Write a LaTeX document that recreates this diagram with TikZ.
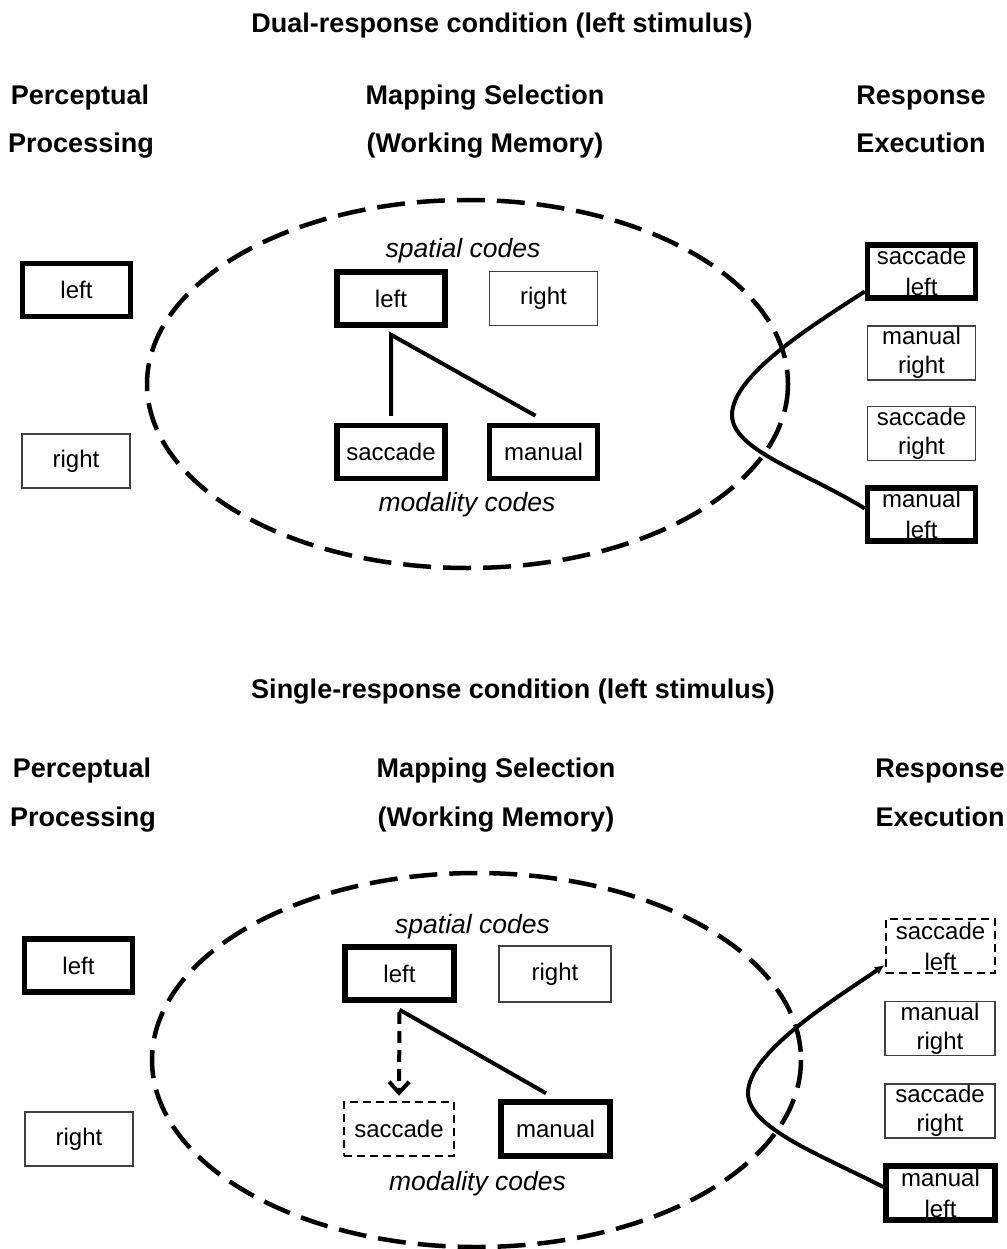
\documentclass[tikz,border=0pt]{standalone}
\usepackage{fontspec}
\setmainfont{Liberation Sans}
\usetikzlibrary{arrows.meta}
\begin{document}
\begin{tikzpicture}[x=1pt,y=-1pt,
  head/.style={font=\fontsize{27}{30}\selectfont\bfseries, anchor=base, inner sep=0pt},
  codes/.style={font=\fontsize{26.5}{30}\selectfont\itshape, anchor=base, inner sep=0pt},
  boxbase/.style={draw, inner sep=0pt, font=\fontsize{24}{29}\selectfont, align=center,
    minimum width=108pt, minimum height=54pt},
  thickbox/.style={boxbase, line width=5.5pt, minimum height=53pt},
  thinbox/.style={boxbase, line width=1.4pt, draw=black!75},
  dashbox/.style={boxbase, line width=2.5pt, dash pattern=on 8pt off 5pt},
  wm/.style={line width=4.5pt, dash pattern=on 28pt off 12pt},
  conn/.style={line width=4pt},
]
\fill[white] (0,0) rectangle (1006,1249);
\useasboundingbox (0,0) rectangle (1006,1249);

% ---------------- top panel ----------------
\node[head] (t1) at (502,33) {Dual-response condition (left stimulus)};
\node[head] (h1a) at (80,105) {Perceptual};
\node[head] (h1b) at (81,153) {Processing};
\node[head] (h2a) at (485,105) {Mapping Selection};
\node[head] (h2b) at (485,153) {(Working Memory)};
\node[head] (h3a) at (921,105) {Response};
\node[head] (h3b) at (921,153) {Execution};

\draw[wm] (467.5,384) ellipse [x radius=320.5, y radius=184];

\node[thickbox] (pl) at (76.5,290) {left};
\node[thinbox] (pr) at (76,461) {right};

\node[codes] (sc) at (463,258) {spatial codes};
\node[thickbox] (sl) at (391,298.5) {left};
\node[thinbox] (sr) at (543.5,298.5) {right};
\node[thickbox] (ms) at (391,452) {saccade};
\node[thickbox] (mm) at (543.5,452) {manual};
\node[codes] (mc) at (467,511) {modality codes};

\coordinate (j1) at ([yshift=-7pt]sl.south);
\draw[conn] ([yshift=7pt]ms.north) -- (j1) -- ([xshift=-8pt,yshift=7pt]mm.north);

\node[thickbox] (r1) at (921.5,271.5) {saccade\\[2pt]left};
\node[thinbox] (r2) at (921.5,353) {manual\\right};
\node[thinbox] (r3) at (921.5,433.5) {saccade\\right};
\node[thickbox] (r4) at (921.5,514.5) {manual\\[2pt]left};

\coordinate (tip1) at (732,415);
\draw[conn] ([yshift=-20pt]r1.west) .. controls +(-51,33) and +(0,-40) .. (tip1)
  .. controls +(0,35) and +(-60,-37) .. ([yshift=6pt]r4.west);

% ---------------- bottom panel ----------------
\node[head] (t2) at (513,698) {Single-response condition (left stimulus)};
\node[head] (k1a) at (82,777) {Perceptual};
\node[head] (k1b) at (83,826) {Processing};
\node[head] (k2a) at (496,777) {Mapping Selection};
\node[head] (k2b) at (496,826) {(Working Memory)};
\node[head] (k3a) at (940,777) {Response};
\node[head] (k3b) at (940,826) {Execution};

\draw[wm] (476.5,1060) ellipse [x radius=324.5, y radius=187];

\node[thickbox] (pl2) at (78.5,965.5) {left};
\node[thinbox] (pr2) at (79,1139) {right};

\node[codes] (sc2) at (472.5,933) {spatial codes};
\node[thickbox, minimum width=109pt] (sl2) at (399.5,973.5) {left};
\node[thinbox, minimum width=112pt, minimum height=56pt] (sr2) at (555,974) {right};
\node[dashbox, minimum width=110pt] (ms2) at (399,1129) {saccade};
\node[thickbox, minimum width=109pt, minimum height=54pt] (mm2) at (555.5,1129) {manual};
\node[codes] (mc2) at (477.5,1190) {modality codes};

\coordinate (j2) at ([yshift=-7pt]sl2.south);
\draw[conn, dash pattern=on 12pt off 7pt, -{Straight Barb[length=11pt,width=20pt]}]
  ([yshift=-9pt]sl2.south) -- ([yshift=5pt]ms2.north);
\draw[conn] (j2) -- ([xshift=-9.5pt,yshift=6pt]mm2.north);

\node[dashbox, minimum width=109pt, minimum height=54pt] (q1) at (940.5,946) {saccade\\[2pt]left};
\node[thinbox, minimum width=110pt] (q2) at (940,1028.5) {manual\\right};
\node[thinbox, minimum width=110pt] (q3) at (940,1111) {saccade\\right};
\node[thickbox, minimum width=109pt, minimum height=54pt] (q4) at (940.5,1193) {manual\\[2pt]left};

\coordinate (tip2) at (748,1093);
\draw[conn, {Latex[length=10pt,width=9pt]}-] ([yshift=-19pt]q1.west) .. controls +(-53,36) and +(0,-40) .. (tip2)
  .. controls +(0,35) and +(-62,-32) .. ([yshift=6pt]q4.west);
\end{tikzpicture}
\end{document}
